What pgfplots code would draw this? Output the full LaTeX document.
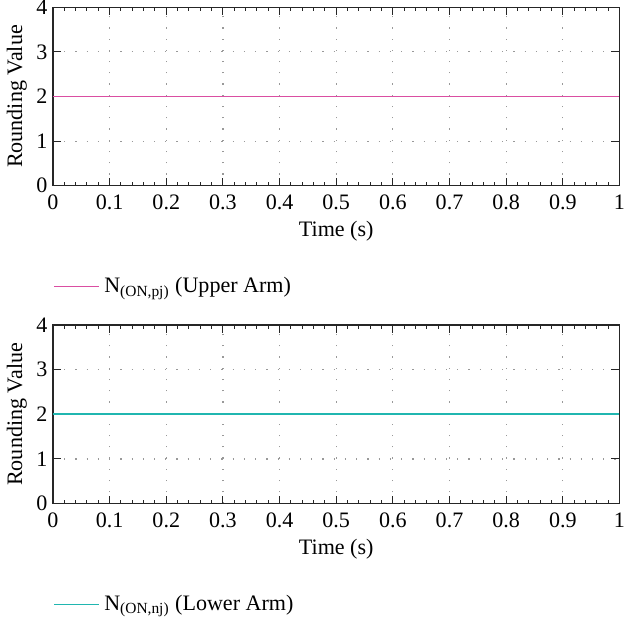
\documentclass[border=0pt]{standalone}
\usepackage{pgfplots}
\pgfplotsset{compat=1.18}
\usepackage{fontspec}
\setmainfont{Liberation Serif}
\definecolor{upc}{RGB}{218,78,162}
\definecolor{loc}{RGB}{32,182,176}
\pgfplotsset{
  myax/.style={
    scale only axis, width=282.5pt, height=89pt,
    xmin=0, xmax=1, ymin=0, ymax=4,
    xtick={0,0.1,...,1.0}, ytick={0,1,2,3,4},
    xticklabels={0,0.1,0.2,0.3,0.4,0.5,0.6,0.7,0.8,0.9,1},
    minor x tick num=4,
    tick align=inside, major tick length=4pt, minor tick length=2pt,
    grid=major, major grid style={gray!80, dash pattern=on 0.6pt off 5pt, line width=0.6pt},
    axis line style={line width=0.7pt, black!85},
    every tick/.style={black!85, line width=0.5pt},
    tick label style={font=\fontsize{11}{13}\selectfont},
    label style={font=\fontsize{11}{13}\selectfont},
    xlabel={Time (s)}, ylabel={Rounding Value},
    /pgf/number format/assume math mode=true,
    xticklabel style={yshift=-1pt, inner xsep=0pt},
    yticklabel style={inner ysep=0pt, inner xsep=2.6pt},
    xlabel style={yshift=1pt}, ylabel style={yshift=-1.5pt, inner ysep=3.4pt},
    legend style={at={(0,-0.565)}, anchor=west, draw=none, fill=none, inner sep=0pt,
      font=\fontsize{11}{13}\selectfont, cells={anchor=west}},
    legend image code/.code={\draw[#1, line width=0.6pt] (0.5pt,0pt) -- (17.5pt,0pt); \path (0pt,0pt) -- (22.5pt,0pt);},
  }
}
\begin{document}
\begin{tikzpicture}
\begin{axis}[myax, name=top]
\addplot[upc, line width=0.9pt] coordinates {(0,2) (1,2)};
\addlegendentry{N\textsubscript{(ON,pj)} (Upper Arm)}
\end{axis}
\begin{axis}[myax, at={(top.south west)}, anchor=south west, yshift=-158.5pt]
\addplot[loc, line width=0.9pt] coordinates {(0,2) (1,2)};
\addlegendentry{N\textsubscript{(ON,nj)} (Lower Arm)}
\end{axis}
\end{tikzpicture}
\end{document}
